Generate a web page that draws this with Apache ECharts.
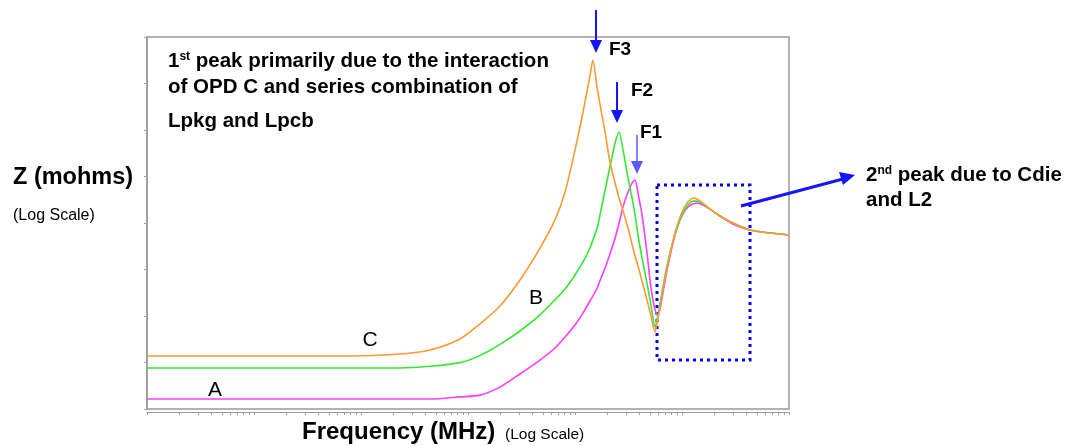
<!DOCTYPE html>
<html>
<head>
<meta charset="utf-8">
<script src="https://cdn.jsdelivr.net/npm/echarts@6/dist/echarts.min.js"></script>
<style>
  html, body { margin: 0; padding: 0; background: #fff; }
  #chart { width: 1076px; height: 446px; }
</style>
</head>
<body>
<div id="chart"></div>
<script>
// frequency points (MHz, log scale) shared by the three curves
const freqMHz = [0.001, 0.00313, 0.00918, 0.0269, 0.0789, 0.231, 0.442, 0.841, 1.29, 1.99,
  3.06, 4.71, 6.50, 8.07, 10.0, 11.9, 13.8, 14.7, 16.1, 17.5,
  19.1, 21.2, 23.7, 25.8, 28.1, 31.3, 34.1, 36.4, 38.8, 42.3,
  47.1, 51.3, 56.0, 59.7, 65.0, 72.4, 80.7, 89.8, 102, 114,
  127, 138, 157, 183, 226, 313, 432, 664, 1000]

// impedance, mohms
const zA = [1.28, 1.28, 1.28, 1.28, 1.28, 1.28, 1.28, 1.35, 1.41, 1.72,
  2.38, 3.36, 4.53, 5.95, 8.00, 10.8, 14.5, 16.4, 20.0, 25.6,
  32.8, 46.4, 69.0, 100, 149, 215, 269, 290, 210, 122,
  47.6, 20.0, 11.6, 10.0, 15.6, 31.2, 55.2, 88.3, 125, 149,
  160, 164, 156, 141, 119, 95.1, 84.1, 78.0, 74.3]
const zB = [2.76, 2.76, 2.76, 2.76, 2.76, 2.76, 2.88, 3.15, 3.75, 4.95,
  6.90, 10.3, 14.9, 19.5, 27.6, 38.1, 53.8, 65.6, 88.3, 138,
  226, 400, 725, 951, 610, 305, 186, 122, 74.3, 42.0,
  22.6, 13.1, 7.62, 10.3, 18.1, 34.5, 58.0, 88.3, 128, 156,
  172, 172, 160, 141, 119, 97.5, 84.1, 78.0, 74.3]
const zC = [3.72, 3.72, 3.72, 3.72, 3.72, 3.90, 4.31, 5.66, 8.20, 12.8,
  24.4, 53.8, 108, 215, 610, 1563, 3808, 5660, 2830, 1641,
  951, 453, 269, 186, 135, 88.3, 59.4, 44.2, 34.5, 23.8,
  14.9, 10.0, 6.73, 9.51, 16.8, 32.8, 58.0, 92.8, 138, 168,
  186, 181, 164, 141, 119, 97.5, 84.1, 78.0, 74.3]

const seriesNames = ['A', 'B', 'C']
const seriesColors = ['#ff3cff', '#33e833', '#ff9933']

const FONT = 'Liberation Sans, Arial, sans-serif'
const BLUE = '#1414ff'

function pairs (zs) {
  return freqMHz.map((f, i) => [f, zs[i]])
}

function text (x, y, str, size, bold, extra) {
  return {
    type: 'text',
    x: x,
    y: y,
    style: Object.assign({
      text: str,
      fill: '#000',
      font: (bold ? 'bold ' : '') + size + 'px ' + FONT,
      verticalAlign: 'middle'
    }, extra || {})
  }
}

function supText (x, y, parts, size) {
  return text(x, y, '{a|' + parts[0] + '}{s|' + parts[1] + '}{a|' + parts[2] + '}', size, true, {
    rich: {
      a: { fontSize: size, fontWeight: 'bold', fontFamily: FONT, lineHeight: size + 2 },
      s: { fontSize: 12, fontWeight: 'bold', fontFamily: FONT, padding: [0, 0, 9, 0] }
    }
  })
}

function arrowDown (x, y1, y2, color, w) {
  return [
    { type: 'line', shape: { x1: x, y1: y1, x2: x, y2: y2 - 11 }, style: { stroke: color, lineWidth: w } },
    { type: 'polygon', shape: { points: [[x - 6, y2 - 13], [x + 6, y2 - 13], [x, y2]] }, style: { fill: color } }
  ]
}

const graphics = [].concat(
  [
    { type: 'rect', shape: { x: 657, y: 185, width: 93, height: 175 },
      style: { fill: 'none', stroke: '#0000ff', lineWidth: 3, lineDash: [3, 4] } },
    { type: 'line', shape: { x1: 741, y1: 206, x2: 843, y2: 179 }, style: { stroke: BLUE, lineWidth: 3 } },
    { type: 'polygon', shape: { points: [[855, 175], [843, 185], [839, 172]] }, style: { fill: BLUE } }
  ],
  arrowDown(596, 10, 53, BLUE, 2),
  arrowDown(617, 82, 123, BLUE, 2),
  arrowDown(637, 135, 174, '#5a5aff', 1.5),
  [
    supText(168, 61, ['1', 'st', ' peak primarily due to the interaction'], 20.5),
    text(168, 87, 'of OPD C and series combination of', 20.5, true),
    text(168, 121, 'Lpkg and Lpcb', 20.5, true),
    text(609, 50, 'F3', 19, true),
    text(631, 91, 'F2', 19, true),
    text(640, 133, 'F1', 19, true),
    supText(866, 175, ['2', 'nd', ' peak due to Cdie'], 20.5),
    text(866, 200, 'and L2', 20.5, true),
    text(13, 178, 'Z (mohms)', 23.5, true),
    text(13, 216, '(Log Scale)', 16, false),
    text(302, 432, 'Frequency (MHz)', 24, true),
    text(505, 435, '(Log Scale)', 15.5, false),
    text(370, 340, 'C', 21, false, { align: 'center' }),
    text(536, 298, 'B', 21, false, { align: 'center' }),
    text(215, 390, 'A', 21, false, { align: 'center' })
  ]
)

const chart = echarts.init(document.getElementById('chart'))
const option = {
  animation: false,
  backgroundColor: '#fff',
  grid: {
    left: 147,
    top: 37,
    right: 287,
    bottom: 37,
    show: true,
    borderColor: '#9a9a9a',
    borderWidth: 1.5
  },
  xAxis: {
    type: 'log',
    logBase: 10,
    min: 0.001,
    max: 1000,
    offset: 3,
    axisLine: { lineStyle: { color: '#a0a0a0', width: 1 } },
    axisTick: { show: true, length: 3, lineStyle: { color: '#a0a0a0' } },
    minorTick: { show: true, splitNumber: 9, length: 3, lineStyle: { color: '#a0a0a0' } },
    axisLabel: { show: false },
    splitLine: { show: false }
  },
  yAxis: {
    type: 'log',
    logBase: Math.sqrt(10),
    min: 1,
    max: 10000,
    axisLine: { show: true, lineStyle: { color: '#9a9a9a', width: 1.5 } },
    axisTick: { show: true, length: 3, lineStyle: { color: '#a0a0a0' } },
    axisLabel: { show: false },
    splitLine: { show: false }
  },
  series: seriesNames.map((name, idx) => ({
    name: name,
    type: 'line',
    data: pairs([zA, zB, zC][idx]),
    showSymbol: false,
    smooth: 0.25,
    lineStyle: { color: seriesColors[idx], width: 1.6 }
  })),
  graphic: graphics
}
chart.setOption(option)
</script>
</body>
</html>
